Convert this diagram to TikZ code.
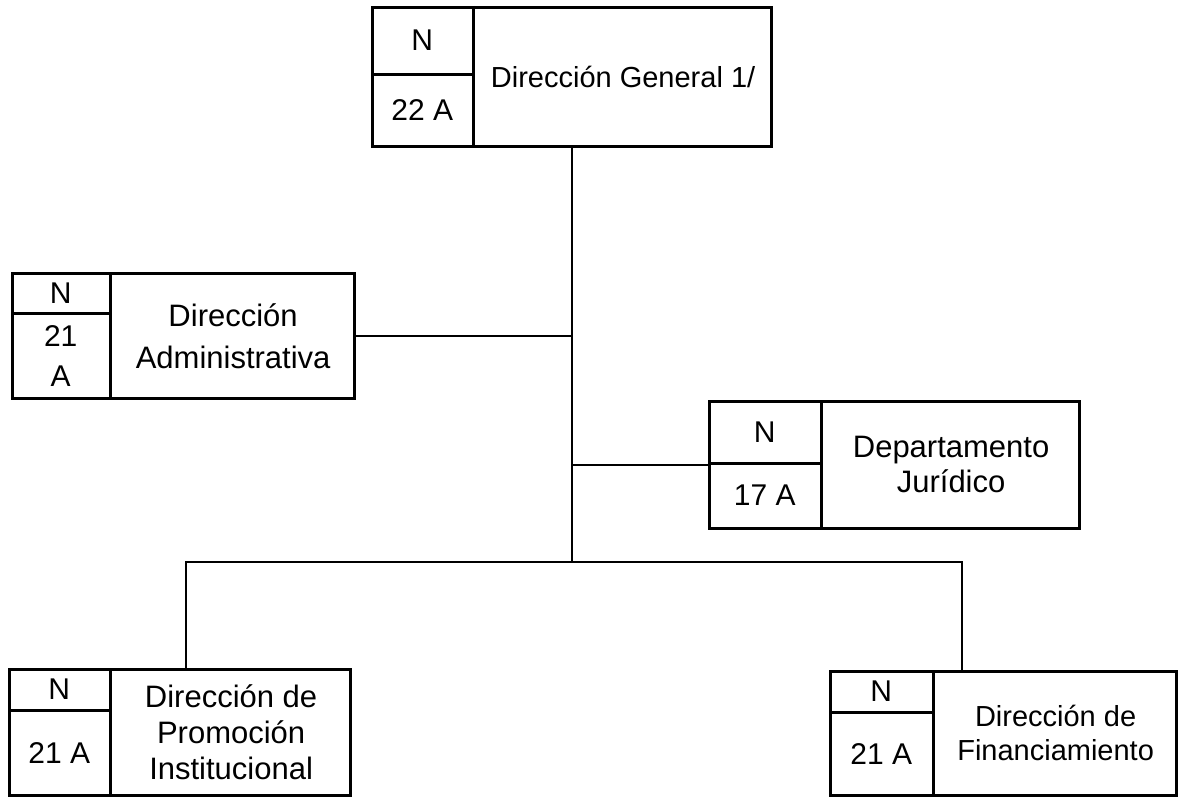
\documentclass[tikz,border=0pt]{standalone}
\usepackage{fontspec}
\setmainfont{Liberation Sans}
\usetikzlibrary{positioning, calc}
\tikzset{%
  % estilos de las cajas del organigrama
       marco/.style = {rectangle, draw=black, line width=2.8pt, inner sep=0pt,
                       anchor=north west},
       celda/.style = {rectangle, inner sep=0pt, anchor=north west, align=center,
                       font=\fontsize{30}{36}\selectfont},
      titulo/.style = {align=center, inner sep=0pt,
                       font=\fontsize{30}{36}\selectfont},
       linea/.style = {draw=black, line width=2.8pt},
}
\begin{document}
\begin{tikzpicture}[x=1pt, y=-1pt]
  \useasboundingbox (0,0) rectangle (1186,797);

  % Direccion General
  \node(dg)   [marco, minimum width=399, minimum height=139] at (371,6) {};
  \node(dgN)  [celda, minimum width=102, minimum height=68] at (dg.north west) {N};
  \node(dgC)  [celda, minimum width=102, minimum height=71] at (dgN.south west) {22 A};
  \node(dgT)  [titulo, font=\fontsize{29}{36}\selectfont] at ($(dgN.north east)!0.5!(dg.south east)$) {Direcci\'on General 1/};

  % Direccion Administrativa
  \node(da)   [marco, minimum width=342, minimum height=125] at (11,272) {};
  \node(daN)  [celda, minimum width=99, minimum height=41] at (da.north west) {N};
  \node(daC)  [celda, minimum width=99, minimum height=84,
               font=\fontsize{30}{40}\selectfont] at (daN.south west) {21\\A};
  \node(daT)  [titulo, font=\fontsize{31}{42}\selectfont] at ($(daN.north east)!0.5!(da.south east)$) {Direcci\'on\\Administrativa};

  % Departamento Juridico
  \node(dj)   [marco, minimum width=370, minimum height=127] at (708,400) {};
  \node(djN)  [celda, minimum width=113, minimum height=63] at (dj.north west) {N};
  \node(djC)  [celda, minimum width=113, minimum height=64] at (djN.south west) {17 A};
  \node(djT)  [titulo, font=\fontsize{31}{35}\selectfont] at ($(djN.north east)!0.5!(dj.south east)$) {Departamento\\Jur\'idico};

  % Direccion de Promocion Institucional
  \node(dp)   [marco, minimum width=341, minimum height=126] at (8,668) {};
  \node(dpN)  [celda, minimum width=102, minimum height=42] at (dp.north west) {N};
  \node(dpC)  [celda, minimum width=102, minimum height=84] at (dpN.south west) {21 A};
  \node(dpT)  [titulo, font=\fontsize{31}{36}\selectfont] at ($(dpN.north east)!0.5!(dp.south east)$) {Direcci\'on de\\Promoci\'on\\Institucional};

  % Direccion de Financiamiento
  \node(df)   [marco, minimum width=346, minimum height=124] at (829,670) {};
  \node(dfN)  [celda, minimum width=104, minimum height=42] at (df.north west) {N};
  \node(dfC)  [celda, minimum width=104, minimum height=82] at (dfN.south west) {21 A};
  \node(dfT)  [titulo, font=\fontsize{29}{34}\selectfont] at ($(dfN.north east)!0.5!(df.south east)$) {Direcci\'on de\\Financiamiento};

  % divisiones de las cajas
  \foreach \u in {dg, da, dj, dp, df} {
    \draw[linea] (\u N.north east) -- (\u C.south east);
    \draw[linea] (\u N.south west) -- (\u N.south east);
  }

  % lineas de dependencia
  \coordinate (nudo)  at (dg.south |- 0,562);
  \coordinate (bajaP) at (186,562);
  \coordinate (bajaF) at (962,562);
  \draw[linea] (dg.south) -- (nudo);
  \draw[linea] (da.east) -- (da.east -| dg.south);
  \draw[linea] (dj.west) -- (dj.west -| dg.south);
  \draw[linea] (bajaP |- dp.north) -- (bajaP) -- (bajaF) -- (bajaF |- df.north);

\end{tikzpicture}
\end{document}
